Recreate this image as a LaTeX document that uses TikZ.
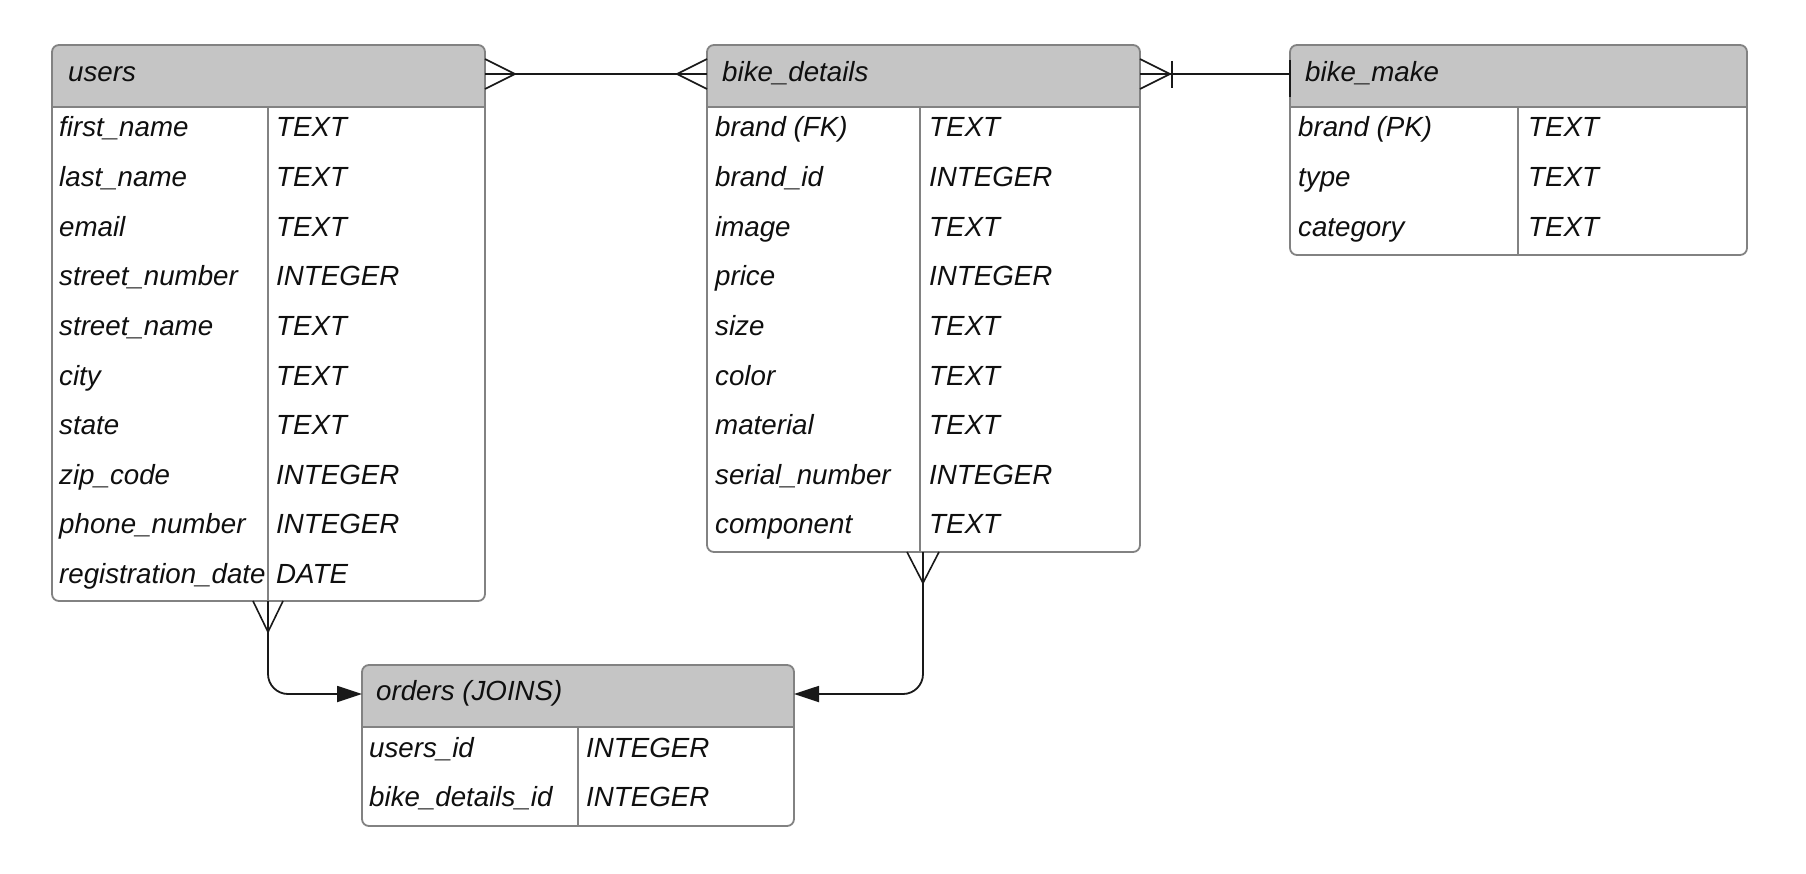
\documentclass[tikz,border=0pt]{standalone}
\usepackage{fontspec}
\setmainfont{Liberation Sans}
\usetikzlibrary{arrows.meta,calc}
\definecolor{headgray}{RGB}{197,197,197}
\definecolor{bordergray}{RGB}{130,130,130}
\definecolor{txtc}{RGB}{15,15,15}
\definecolor{linec}{RGB}{25,25,25}
\tikzset{
  border/.style={draw=bordergray, line width=1.8pt},
  tablebox/.style={border, rounded corners=7pt, inner sep=0pt, outer sep=0pt, anchor=north west},
  cell/.style={anchor=base west, inner sep=0pt, text=txtc, font=\fontsize{27.7}{30}\selectfont\itshape},
  conn/.style={draw=linec, line width=1.8pt},
  crow/.style={draw=linec, line width=1.6pt},
  tip/.style={-{Triangle[length=25pt,width=16pt]}},
}
\newcommand\ertable[7]{%
  \fill[white, rounded corners=7pt] (#2,#3) rectangle (#4,#5);
  \begin{scope}
    \clip (#2,#3) rectangle (#4,#6);
    \fill[headgray, rounded corners=7pt] (#2,#3) rectangle (#4,#5);
  \end{scope}
  \draw[border] (#2,#6) -- (#4,#6);
  \draw[border] (#7,#6) -- (#7,#5);
  \node[tablebox, minimum width={#4-#2}, minimum height={#5-#3}] (#1) at (#2,#3) {};
}
\begin{document}
\begin{tikzpicture}[x=1pt,y=-1pt]
\useasboundingbox (0,0) rectangle (1806,874);
\fill[white] (0,0) rectangle (1806,874);

% users
\ertable{users}{52}{45}{485}{601}{107}{268}
\node[cell] (users-h) at (68,82) {users};
\foreach \n/\t [count=\i from 0] in {first\_name/TEXT, last\_name/TEXT, email/TEXT, street\_number/INTEGER, street\_name/TEXT, city/TEXT, state/TEXT, zip\_code/INTEGER, phone\_number/INTEGER, registration\_date/DATE}{
  \node[cell] (users-n\i) at (59,137+49.6*\i) {\n};
  \node[cell] (users-t\i) at (276,137+49.6*\i) {\t};
}

% bike_details
\ertable{details}{707}{45}{1140}{552}{107}{920}
\node[cell] (details-h) at (722,82) {bike\_details};
\foreach \n/\t [count=\i from 0] in {brand (FK)/TEXT, brand\_id/INTEGER, image/TEXT, price/INTEGER, size/TEXT, color/TEXT, material/TEXT, serial\_number/INTEGER, component/TEXT}{
  \node[cell] (details-n\i) at (715,137+49.6*\i) {\n};
  \node[cell] (details-t\i) at (929,137+49.6*\i) {\t};
}

% bike_make
\ertable{make}{1290}{45}{1747}{255}{107}{1518}
\node[cell] (make-h) at (1305,82) {bike\_make};
\foreach \n/\t [count=\i from 0] in {brand (PK)/TEXT, type/TEXT, category/TEXT}{
  \node[cell] (make-n\i) at (1298,137+49.6*\i) {\n};
  \node[cell] (make-t\i) at (1528,137+49.6*\i) {\t};
}

% orders
\ertable{orders}{362}{665}{794}{826}{727}{578}
\node[cell] (orders-h) at (376,700) {orders (JOINS)};
\foreach \n/\t [count=\i from 0] in {users\_id/INTEGER, bike\_details\_id/INTEGER}{
  \node[cell] (orders-n\i) at (369,757+49*\i) {\n};
  \node[cell] (orders-t\i) at (586,757+49*\i) {\t};
}

% users -- bike_details (many to many)
\coordinate (c1a) at ($(users.north east)+(0,29)$);
\coordinate (c1b) at ($(details.north west)+(0,29)$);
\draw[conn] (c1a) -- (c1b);
\draw[crow] ($(c1a)+(0,-15)$) -- ($(c1a)+(30,0)$) -- ($(c1a)+(0,15)$);
\draw[crow] ($(c1b)+(0,-15)$) -- ($(c1b)+(-30,0)$) -- ($(c1b)+(0,15)$);

% bike_details -- bike_make (many to one)
\coordinate (c2a) at ($(details.north east)+(0,29)$);
\coordinate (c2b) at ($(make.north west)+(0,29)$);
\draw[conn] (c2a) -- (c2b);
\draw[crow] ($(c2a)+(0,-15)$) -- ($(c2a)+(30,0)$) -- ($(c2a)+(0,15)$);
\draw[crow] ($(c2a)+(32,-13)$) -- ($(c2a)+(32,14)$);
\draw[conn, line width=2.2pt] ($(make.north west)+(0,15)$) -- ($(make.north west)+(0,52)$);

% users -> orders
\coordinate (c3a) at ($(users.south west)+(216,0)$);
\coordinate (c3b) at ($(orders.north west)+(0,29)$);
\draw[conn, tip, rounded corners=20pt] (c3a) |- (c3b);
\draw[crow] ($(c3a)+(-15,0)$) -- ($(c3a)+(0,31)$) -- ($(c3a)+(15,0)$);

% bike_details -> orders
\coordinate (c4a) at ($(details.south west)+(216,0)$);
\coordinate (c4b) at ($(orders.north east)+(0,29)$);
\draw[conn, tip, rounded corners=20pt] (c4a) |- (c4b);
\draw[crow] ($(c4a)+(-16,0)$) -- ($(c4a)+(0,31)$) -- ($(c4a)+(16,0)$);
\end{tikzpicture}
\end{document}
